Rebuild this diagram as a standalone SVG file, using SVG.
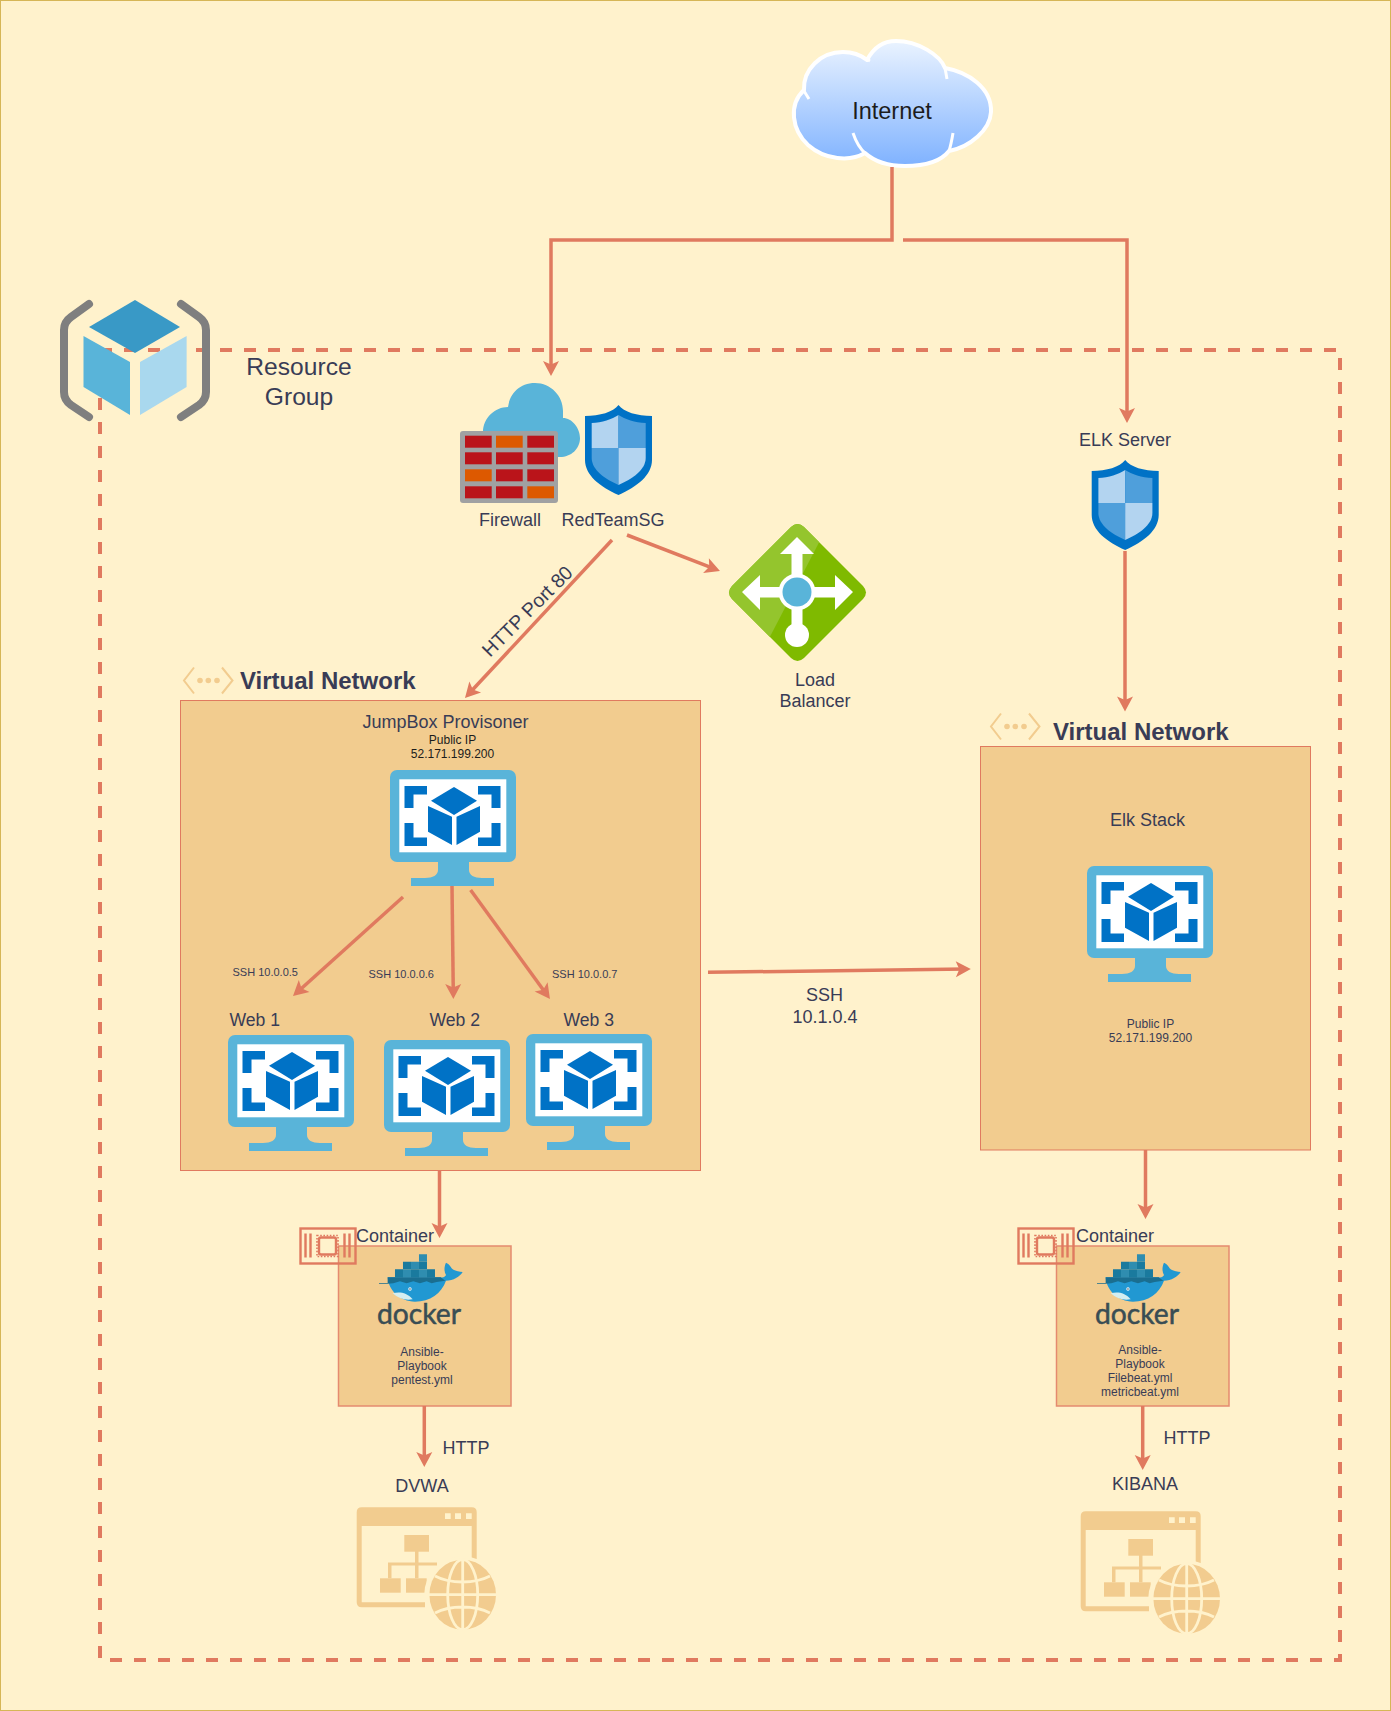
<svg xmlns="http://www.w3.org/2000/svg" xmlns:xlink="http://www.w3.org/1999/xlink" width="1391" height="1711" viewBox="0 0 1391 1711">
<style>
text{font-family:"Liberation Sans",Arial,sans-serif;fill:#393C56}
.l18{font-size:18px}.l17{font-size:17.6px}.l12{font-size:12px}.l11{font-size:11px}.l25{font-size:24.6px}
.m{text-anchor:middle}
.b{font-weight:bold;font-size:24px}
.dk{fill:#1c1c1c}
.box{fill:#F2CC8F;stroke:#E07A5F;stroke-width:1}
.cbox{fill:#F2CC8F;stroke:#E58B6F;stroke-width:1.5}
.c{fill:none;stroke:#E07A5F;stroke-width:3.5;marker-end:url(#ah)}
.wm{font-family:Lato,"Liberation Sans",sans-serif;font-size:29px;fill:#394D54;stroke:#394D54;stroke-width:.5}
</style>
<defs>
<marker id="ah" markerUnits="userSpaceOnUse" viewBox="-1 -9 17 18" markerWidth="17" markerHeight="18" refX="10" refY="0" orient="auto"><path d="M0,-8L15,0L0,8L3.5,0Z" fill="#E07A5F"/></marker>
<linearGradient id="cloudG" x1="0" y1="0" x2="0" y2="1"><stop offset="0" stop-color="#EAF3FF"/><stop offset="1" stop-color="#7FB2FF"/></linearGradient>
<clipPath id="lbClip"><path d="M791,527Q797.5,521 804,527L863,586Q869,592.5 863,599L804,658Q797.5,664 791,658L732,599Q726,592.5 732,586Z"/></clipPath>
<g id="vm">
<rect x="0" y="0" width="126" height="92" rx="7" fill="#59B4D9"/>
<path d="M48,92H79V100C79,105 84,108 92,108H104V116H21V108H35C43,108 48,105 48,100Z" fill="#59B4D9"/>
<rect x="9.3" y="9.3" width="107" height="73" fill="#fff"/>
<path d="M14.5,16H37V24.5H23.5V38H14.5ZM110.5,16H88V24.5H101.5V38H110.5ZM14.5,76H37V67.5H23.5V53H14.5ZM110.5,76H88V67.5H101.5V53H110.5Z" fill="#0072C6"/>
<path d="M64,17L87,30.7L64,45L41,30.7Z" fill="#0072C6"/>
<path d="M38,36L62,46.7V75L38,61.7ZM66.5,46.7L90,36V61.7L66.5,75Z" fill="#0072C6"/>
</g>
<g id="shield">
<path d="M33.5,0C28,7 15,11 0,11V55C0,70 15,82 33.5,90C52,82 67,70 67,55V11C52,11 39,7 33.5,0Z" fill="#0072C6"/>
<path d="M33.5,10C27,14 17,18 6.7,18V43H33.5Z" fill="#B3D4F0"/>
<path d="M33.5,10C40,14 50,18 60.7,18V43H33.5Z" fill="#4F9FDB"/>
<path d="M6.7,43H33.5V80C20,74 6.7,65 6.7,53Z" fill="#4F9FDB"/>
<path d="M33.5,43H60.7V53C60.7,65 47,74 33.5,80Z" fill="#B3D4F0"/>
</g>
<g id="netIcon" fill="none" stroke="#F2CC8F" stroke-width="2">
<path d="M194,667L184,680L194,693M222,667L232.5,680L222,693"/>
<circle cx="200" cy="680" r="2.8" fill="#F2CC8F" stroke="none"/><circle cx="208.3" cy="680" r="2.8" fill="#F2CC8F" stroke="none"/><circle cx="217" cy="680" r="2.8" fill="#F2CC8F" stroke="none"/>
</g>
<g id="whale" transform="scale(0.3333)">
<path d="M323,232H482C490,236 500,225 498,225C492,215 492,200 498,188C503,190 510,195 515,205C520,212 535,215 548,216C540,230 520,242 498,242C485,280 450,305 405,305C360,305 325,270 323,232Z" fill="#2198D2"/>
<path d="M338,280C360,275 380,278 398,298C375,302 355,295 338,280Z" fill="#D4EEF1"/>
<circle cx="390" cy="267" r="5" fill="#fff"/><circle cx="390" cy="267" r="2.4" fill="#394D54"/>
<path d="M297,249H323V232H482L496,242L470,246L455,250L440,244L420,250L400,244L380,250L360,244L340,250L322,251H297Z" fill="#1A6E90"/>
<path d="M345,208H369V232H345ZM393,208H417V232H393ZM441,208H465V232H441ZM369,185H393V208H369ZM417,185H441V208H417Z" fill="#1A7A9E"/>
<path d="M369,208H393V232H369ZM417,208H441V232H417ZM393,185H417V208H393ZM417,163H441V185H417Z" fill="#2F8DB0"/>
</g>
<g id="chip" fill="none" stroke="#E07A5F" stroke-width="2.4">
<rect x="1" y="1" width="55" height="35"/>
<path d="M6,6V30M11,6V30M45,6V30M50,6V30"/>
<rect x="19.5" y="10" width="17" height="17" rx="2"/>
<rect x="17.5" y="8" width="21" height="21" stroke-dasharray="1.6 1.6" stroke-width="1.6"/>
</g>
<g id="webIcon" fill="#F2CC8F">
<path d="M81.7,307.3H191.7Q196.7,307.3 196.7,312.3V372H191.7V326H81.7V402.3H145V407.3H81.7Q76.7,407.3 76.7,402.3V312.3Q76.7,307.3 81.7,307.3Z"/>
<path d="M165,313.3h5.7v5.7h-5.7ZM175,313.3h6v5.7h-6ZM186,313.3h5.7v5.7h-5.7Z" fill="#FFF2CC"/>
<rect x="124.3" y="335" width="24.7" height="16.7"/>
<path d="M135,351H138.5V362.5H157V365.5H138.5V378.3H135V365.5H111.5V378.3H108V362.5H135Z"/>
<rect x="100" y="378.3" width="20.7" height="14.4"/><rect x="126" y="378.3" width="20.7" height="14.4"/>
<circle cx="182.7" cy="394.7" r="38.5" fill="#FFF2CC"/>
<ellipse cx="182.7" cy="394.7" rx="33.3" ry="35"/>
<g fill="none" stroke="#FFF2CC" stroke-width="2.8">
<ellipse cx="182.7" cy="394.7" rx="15" ry="35"/>
<path d="M182.7,360V430M149,394.7H216M155,376C170,384 195,384 210,376M155,413C170,405 195,405 210,413"/>
</g>
</g>
</defs>

<rect id="background" x="0.5" y="0.5" width="1390" height="1710" fill="#FFF2CC" stroke="#D6B656"/>
<g id="resource-group">
<rect x="100" y="350" width="1240" height="1310" fill="none" stroke="#E07A5F" stroke-width="4" stroke-dasharray="12 12"/>
<g fill="none" stroke="#7F7F7F" stroke-width="8" stroke-linecap="round" stroke-linejoin="round">
<path d="M89,304L71,317Q64,322 64,330V392Q64,400 71,405L89,417"/>
<path d="M181,304L199,317Q206,322 206,330V392Q206,400 199,405L181,417"/>
</g>
<path d="M135,300L180,327L135,353L89,327Z" fill="#3999C6"/>
<path d="M83.5,336L130,362V415L83.5,387Z" fill="#59B4D9"/>
<path d="M140,362L186.6,336V387L140,415Z" fill="#A9D8EE"/>
<text class="l25 m" x="299" y="375">Resource</text>
<text class="l25 m" x="299" y="405">Group</text>
</g>

<g id="internet">
<path d="M867,60C875,45 885,41 896,41C918,41 940,55 945,68C968,72 992,88 991,112C990,130 970,147 949,151C938,165 915,166 905,166C890,166 875,162 865,153C850,162 825,160 808,145C792,130 788,105 804,90C803,70 820,52 843,52C853,52 862,56 867,60Z" fill="url(#cloudG)" stroke="#fff" stroke-width="4" stroke-linejoin="round"/>
<path d="M859,55L870,61M945,68L947,79M804,91L809,99M853,133C856,142 860,149 866,154M953,133C952,139 951,145 949,151" fill="none" stroke="#fff" stroke-width="3"/>
<text class="m dk" x="892" y="119" font-size="23.5">Internet</text>
</g>

<g id="firewall">
<path d="M483,457V432C483,418 495,407 508,407C510,393 520,383 535,383C551,383 563,396 563,411V418C572,418 580,428 580,438C580,449 571,457 560,457Z" fill="#59B4D9"/>
<rect x="460" y="431" width="98" height="72" rx="3" fill="#A0A1A2"/>
<g fill="#BA141A">
<rect x="465" y="435.7" width="26.7" height="12"/><rect x="527.3" y="435.7" width="26.7" height="12"/>
<rect x="465" y="452.3" width="26.7" height="12"/><rect x="496" y="452.3" width="26.7" height="12"/><rect x="527.3" y="452.3" width="26.7" height="12"/>
<rect x="496" y="469.3" width="26.7" height="12"/><rect x="527.3" y="469.3" width="26.7" height="12"/>
<rect x="465" y="486.3" width="26.7" height="12"/><rect x="496" y="486.3" width="26.7" height="12"/>
</g>
<g fill="#DD5900">
<rect x="496" y="435.7" width="26.7" height="12"/><rect x="465" y="469.3" width="26.7" height="12"/><rect x="527.3" y="486.3" width="26.7" height="12"/>
</g>
<text class="l18 m" x="510" y="526">Firewall</text>
</g>

<g id="redteamsg">
<use xlink:href="#shield" href="#shield" transform="translate(585,405)"/>
<text class="l18 m" x="613" y="526">RedTeamSG</text>
</g>

<g id="load-balancer">
<path d="M791,527Q797.5,521 804,527L863,586Q869,592.5 863,599L804,658Q797.5,664 791,658L732,599Q726,592.5 732,586Z" fill="#7FBA00"/>
<path d="M720,520H830.7L755.7,664H720Z" fill="#94C52D" clip-path="url(#lbClip)"/>
<path d="M797,537L814,554H802.5V587H835V575L853,592L835,610V597.5H802.5V625H791.5V597.5H760V610L742,592L760,575V587H791.5V554H780Z" fill="#fff"/>
<circle cx="797" cy="635" r="12" fill="#fff"/>
<circle cx="797" cy="592" r="18.5" fill="#fff"/>
<circle cx="797" cy="592" r="14.5" fill="#59B4D9"/>
<text class="l18 m" x="815" y="686">Load</text>
<text class="l18 m" x="815" y="707">Balancer</text>
</g>

<g id="elk-server">
<text class="l18 m" x="1125" y="446">ELK Server</text>
<use xlink:href="#shield" href="#shield" transform="translate(1091.7,460)"/>
</g>

<g id="vnet-left">
<use xlink:href="#netIcon" href="#netIcon" transform="translate(0,0.5)"/>
<text class="b" x="240" y="689">Virtual Network</text>
<rect class="box" x="180.5" y="700.5" width="520" height="470"/>
<text class="l18 m" x="445.5" y="728">JumpBox Provisoner</text>
<text class="l12 m dk" x="452.5" y="744">Public IP</text>
<text class="l12 m dk" x="452.5" y="758">52.171.199.200</text>
</g>
<g id="jumpbox"><use xlink:href="#vm" href="#vm" transform="translate(390,770)"/></g>
<g id="web1">
<text class="l17" x="229.5" y="1026">Web 1</text>
<use xlink:href="#vm" href="#vm" transform="translate(228,1035)"/>
</g>
<g id="web2">
<text class="l17" x="429.5" y="1026">Web 2</text>
<use xlink:href="#vm" href="#vm" transform="translate(384,1040)"/>
</g>
<g id="web3">
<text class="l17" x="563.5" y="1026">Web 3</text>
<use xlink:href="#vm" href="#vm" transform="translate(526,1034)"/>
</g>

<g id="vnet-right">
<use xlink:href="#netIcon" href="#netIcon" transform="translate(807,46.5)"/>
<text class="b" x="1053" y="740">Virtual Network</text>
<rect class="box" x="980.5" y="746.5" width="330" height="403.5"/>
<text class="l18 m" x="1147.5" y="826">Elk Stack</text>
<text class="l12 m" x="1150.5" y="1028">Public IP</text>
<text class="l12 m" x="1150.5" y="1042">52.171.199.200</text>
</g>
<g id="elk-stack"><use xlink:href="#vm" href="#vm" transform="translate(1087,866)"/></g>

<g id="container-left">
<rect class="cbox" x="338.5" y="1246" width="172.5" height="160"/>
<use xlink:href="#chip" href="#chip" transform="translate(299.5,1227.5)"/>
<text class="l18" x="356" y="1241.5">Container</text>
<use xlink:href="#whale" href="#whale" transform="translate(280,1200)"/>
<text class="wm" x="377" y="1324" textLength="84" lengthAdjust="spacingAndGlyphs">docker</text>
<text class="l12 m" x="422" y="1356">Ansible-</text>
<text class="l12 m" x="422" y="1370">Playbook</text>
<text class="l12 m" x="422" y="1384">pentest.yml</text>
</g>
<g id="container-right">
<rect class="cbox" x="1056.5" y="1246" width="172.5" height="160"/>
<use xlink:href="#chip" href="#chip" transform="translate(1017.5,1227.5)"/>
<text class="l18" x="1076" y="1241.5">Container</text>
<use xlink:href="#whale" href="#whale" transform="translate(998,1200)"/>
<text class="wm" x="1095" y="1324" textLength="84" lengthAdjust="spacingAndGlyphs">docker</text>
<text class="l12 m" x="1140" y="1354">Ansible-</text>
<text class="l12 m" x="1140" y="1368">Playbook</text>
<text class="l12 m" x="1140" y="1382">Filebeat.yml</text>
<text class="l12 m" x="1140" y="1396">metricbeat.yml</text>
</g>
<g id="dvwa">
<text class="l18 m" x="422" y="1491.5">DVWA</text>
<use xlink:href="#webIcon" href="#webIcon" transform="translate(280,1200)"/>
</g>
<g id="kibana">
<text class="l18 m" x="1145" y="1490">KIBANA</text>
<use xlink:href="#webIcon" href="#webIcon" transform="translate(1004,1204)"/>
</g>

<g id="connectors">
<path class="c" d="M892,167V240H551V371"/>
<path class="c" d="M903,240H1127V418"/>
<path class="c" d="M612,540L468.4,694.3"/>
<path class="c" d="M627,535L715.3,569.2"/>
<path class="c" d="M1125,551V706.5"/>
<path class="c" d="M403,897L296.7,992.7"/>
<path class="c" d="M452,886L453.3,994"/>
<path class="c" d="M470.6,890L547,995"/>
<path class="c" d="M708,972.3L965.8,969.1"/>
<path class="c" d="M439.5,1171V1233"/>
<path class="c" d="M1145.5,1150V1214"/>
<path class="c" d="M424.3,1406V1462"/>
<path class="c" d="M1142.7,1406V1465"/>
</g>
<g id="connector-labels">
<text class="m" font-size="19.5" transform="translate(532,616) rotate(-45)">HTTP Port 80</text>
<text class="l11" x="232.5" y="976">SSH 10.0.0.5</text>
<text class="l11" x="368.5" y="978">SSH 10.0.0.6</text>
<text class="l11" x="552" y="978">SSH 10.0.0.7</text>
<text class="l18 m" x="824.5" y="1000.5">SSH</text>
<text class="l18 m" x="825" y="1022.5">10.1.0.4</text>
<text class="l18" x="442.5" y="1454">HTTP</text>
<text class="l18" x="1163.5" y="1444">HTTP</text>
</g>
</svg>
